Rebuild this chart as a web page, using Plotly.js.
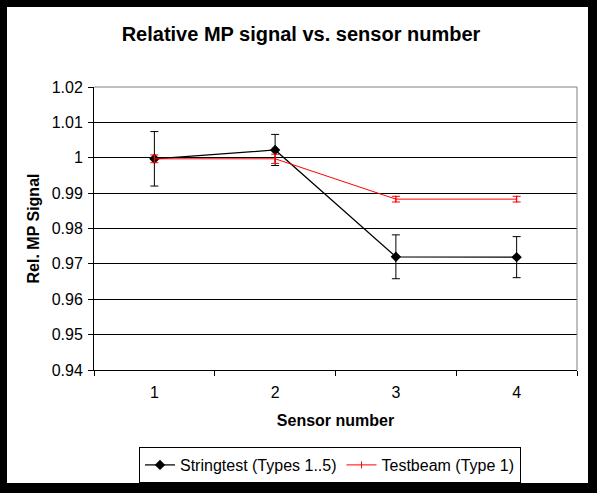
<!DOCTYPE html>
<html>
<head>
<meta charset="utf-8">
<script src="https://cdn.plot.ly/plotly-3.0.1.min.js"></script>
<style>
  html, body { margin: 0; padding: 0; background: #000; width: 597px; height: 493px; overflow: hidden; }
  #chart { position: absolute; left: 7px; top: 7px; width: 581px; height: 476px; background: #fff; }
</style>
</head>
<body>
<div id="chart"></div>
<script>
const sensors = ['1', '2', '3', '4'];
const stringtest = [0.9997, 1.0022, 0.9720, 0.9719];
const stringtestErr = [0.0077, 0.0044, 0.0062, 0.0058];
const testbeam = [0.9997, 0.9997, 0.9883, 0.9883];
const testbeamErr = [0.0011, 0.0013, 0.0008, 0.0008];
const yTicks = [0.94, 0.95, 0.96, 0.97, 0.98, 0.99, 1, 1.01, 1.02];
const yTickText = ['0.94', '0.95', '0.96', '0.97', '0.98', '0.99', '1', '1.01', '1.02'];

const FONT = 'Liberation Sans, Arial, sans-serif';

const traces = [
  {
    name: 'Stringtest (Types 1..5)',
    x: sensors, y: stringtest, type: 'scatter', mode: 'lines+markers',
    line: { color: '#000', width: 1.25 },
    marker: { symbol: 'diamond', size: 8, color: '#000' },
    error_y: { type: 'data', array: stringtestErr, visible: true, color: '#000', thickness: 1, width: 4 }
  },
  {
    name: 'Testbeam (Type 1)',
    x: sensors, y: testbeam, type: 'scatter', mode: 'lines+markers',
    line: { color: '#ff0000', width: 1 },
    marker: { symbol: 'line-ns-open', size: 5, color: '#ff0000', line: { color: '#ff0000', width: 1 } },
    error_y: { type: 'data', array: testbeamErr, visible: true, color: '#ff0000', thickness: 1, width: 4 }
  }
];

const layout = {
  width: 581, height: 476,
  margin: { l: 87, r: 11, t: 80, b: 113, autoexpand: false },
  paper_bgcolor: '#fff', plot_bgcolor: '#fff',
  font: { family: FONT, color: '#000', size: 16 },
  title: {
    text: '<b>Relative MP signal vs. sensor number</b>',
    font: { family: FONT, size: 20, color: '#000' },
    xref: 'container', x: 0.506, xanchor: 'center',
    yref: 'container', y: 1 - 27 / 476, yanchor: 'middle'
  },
  xaxis: {
    type: 'category', automargin: false,
    title: { text: '<b>Sensor number</b>', font: { family: FONT, size: 16 }, standoff: 14 },
    showgrid: false, zeroline: false,
    showline: true, linecolor: '#000', linewidth: 1,
    ticks: 'outside', tickson: 'boundaries', ticklen: 5, tickcolor: '#000', tickwidth: 1,
    ticklabelstandoff: 8,
    tickfont: { family: FONT, size: 16 },
    range: [-0.5, 3.5], fixedrange: true
  },
  yaxis: {
    automargin: false,
    title: { text: '<b>Rel. MP Signal</b>', font: { family: FONT, size: 16 }, standoff: 8 },
    range: [0.94, 1.02],
    tickvals: yTicks, ticktext: yTickText,
    showgrid: true, gridcolor: '#000', gridwidth: 1,
    zeroline: false,
    showline: true, linecolor: '#000', linewidth: 1,
    ticks: 'outside', ticklen: 5, tickcolor: '#000', tickwidth: 1,
    ticklabelstandoff: 2,
    tickfont: { family: FONT, size: 16 },
    fixedrange: true
  },
  shapes: [
    { type: 'line', xref: 'paper', yref: 'paper', x0: 0, x1: 1, y0: 1, y1: 1, line: { color: '#808080', width: 1 }, layer: 'above' },
    { type: 'line', xref: 'paper', yref: 'paper', x0: 1, x1: 1, y0: 0, y1: 1, line: { color: '#808080', width: 1 }, layer: 'above' }
  ],
  legend: {
    orientation: 'h',
    xref: 'paper', x: 45 / 483, xanchor: 'left',
    yref: 'container', y: 1 - 440 / 476, yanchor: 'top',
    bgcolor: '#fff', bordercolor: '#000', borderwidth: 1,
    font: { family: FONT, size: 16, color: '#000' },
    itemwidth: 30
  },
  showlegend: true
};

Plotly.newPlot('chart', traces, layout, { displayModeBar: false, staticPlot: true });
</script>
</body>
</html>
